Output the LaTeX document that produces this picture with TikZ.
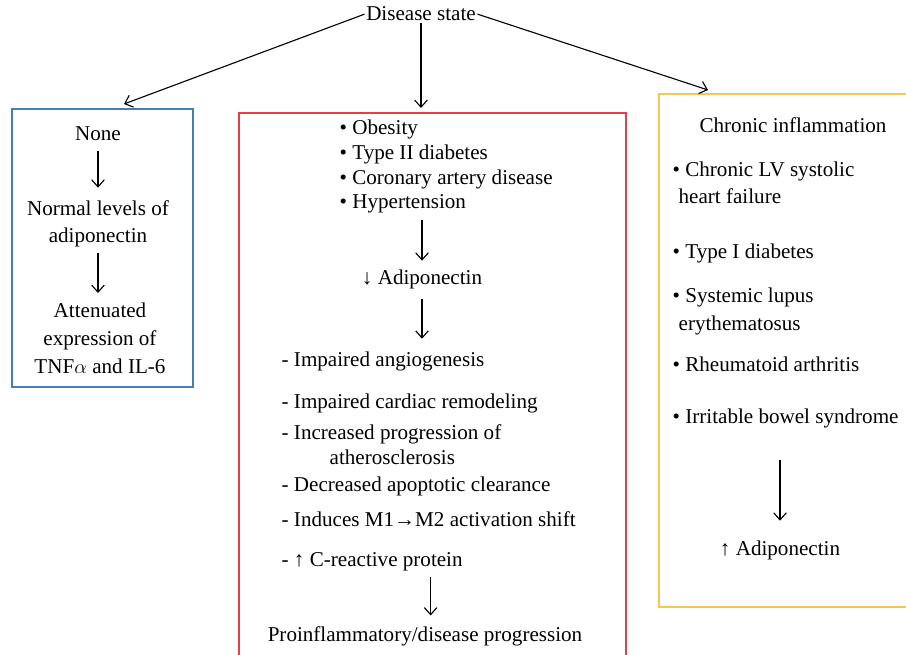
\documentclass[tikz,border=0pt]{standalone}
\usepackage{fontspec}
\setmainfont{Liberation Serif}
\usetikzlibrary{arrows.meta}

\definecolor{boxblue}{RGB}{70,125,182}
\definecolor{boxred}{RGB}{230,62,70}
\definecolor{boxyellow}{RGB}{245,200,82}

\tikzset{
  txt/.style={font=\fontsize{15}{17.7}\selectfont, inner sep=1pt, anchor=base, align=center},
  ltxt/.style={txt, anchor=base west, align=left},
  wide/.style={font=\fontsize{15}{19.8}\selectfont},
  flow/.style={-{Straight Barb[length=5pt,width=9pt]}, line width=0.8pt},
  frame/.style={line width=1.2pt}
}

\begin{document}
\begin{tikzpicture}[x=0.25mm, y=-0.25mm]
\useasboundingbox (0,0) rectangle (906,655);
\clip (0,0) rectangle (906,655);

\draw[frame, boxblue] (12,109) rectangle (193,387);
\draw[frame, boxred] (239,113) rectangle (626,680);
\draw[frame, boxyellow] (659,94) rectangle (930,607);

\node[txt] (state) at (421,21) {Disease state};
\coordinate (ltip) at (124,104);
\coordinate (mtip) at (421,108);
\coordinate (rtip) at (708,90);
\draw[flow] (state.west) -- (ltip);
\draw[flow] (state.south) -- (mtip);
\draw[flow] (state.east) -- (rtip);

\node[txt] (none) at (98,141) {None};
\node[txt, wide] (normal) at (98,243) {Normal levels of\\adiponectin};
\node[txt, wide] (atten) at (100,373) {Attenuated\\expression of\\TNF$\alpha$ and IL-6};
\draw[flow, shorten <=5.7pt, shorten >=7.8pt] (none) -- (normal);
\draw[flow, shorten <=2.8pt, shorten >=5.7pt] (normal.south) -- (normal.south |- atten.north);

\node[ltxt] (risks) at (338,209) {\textbullet\ Obesity\\\textbullet\ Type II diabetes\\\textbullet\ Coronary artery disease\\\textbullet\ Hypertension};
\node[txt] (lowadipo) at (422,284) {↓ Adiponectin};
\node[ltxt] (angio) at (280,366) {- Impaired angiogenesis};
\node[ltxt] (remod) at (280,408) {- Impaired cardiac remodeling};
\node[ltxt] (athero) at (280,464) {- Increased progression of\\\hspace*{12mm}atherosclerosis};
\node[ltxt] (clear) at (280,491) {- Decreased apoptotic clearance};
\node[ltxt] (shift) at (280,526) {- Induces M1→M2 activation shift};
\node[ltxt] (crp) at (280,566) {- ↑ C-reactive protein};
\node[txt] (proinfl) at (425,641) {Proinflammatory/disease progression};
\draw[flow, shorten <=3.6pt, shorten >=5pt] (lowadipo |- risks.south) -- (lowadipo);
\draw[flow, shorten <=6.4pt, shorten >=7.8pt] (lowadipo) -- (lowadipo |- angio.north);
\draw[flow, shorten <=3.6pt, shorten >=6.4pt] ([xshift=4]proinfl |- crp.south) -- ([xshift=4]proinfl.north);

\node[txt] (chronic) at (793,133) {Chronic inflammation};
\node[ltxt, wide] (lvhf) at (671,204) {\textbullet\ Chronic LV systolic\\\hspace*{1.5mm}heart failure};
\node[ltxt] (type1) at (671,258) {\textbullet\ Type I diabetes};
\node[ltxt, wide] (sle) at (671,330) {\textbullet\ Systemic lupus\\\hspace*{1.5mm}erythematosus};
\node[ltxt] (ra) at (671,371) {\textbullet\ Rheumatoid arthritis};
\node[ltxt] (ibs) at (671,423) {\textbullet\ Irritable bowel syndrome};
\node[txt] (highadipo) at (780,555) {↑ Adiponectin};
\draw[flow, shorten <=22pt, shorten >=12.8pt] (highadipo |- ibs.south) -- (highadipo);
\end{tikzpicture}
\end{document}
